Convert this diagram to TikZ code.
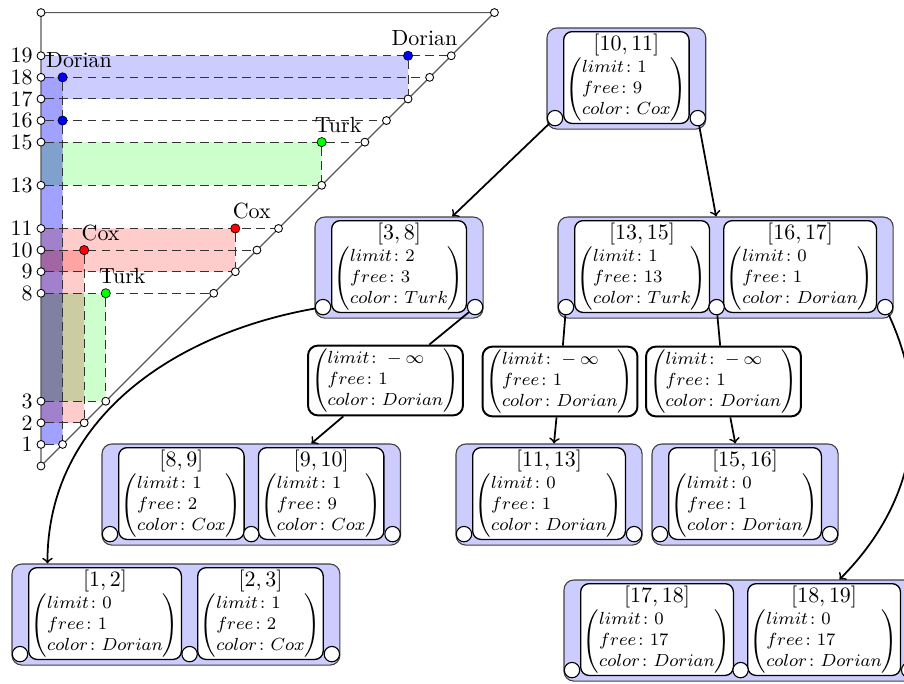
\documentclass[tikz,border=0pt]{standalone}
\usepackage{amsmath}
\usetikzlibrary{calc,fit}
\pgfdeclarelayer{background}
\pgfsetlayers{background,main}

% record contents: limit, free, color
\newcommand{\attrs}[3]{{\footnotesize$\left(\begin{array}{@{}l@{}}limit\colon #1\\ free\colon #2\\ color\colon #3\end{array}\right)$}}

\tikzset{
  axisline/.style={draw=black!65, line width=0.5pt},
  guide/.style={draw=black!80, line width=0.45pt, dash pattern=on 4pt off 2.4pt},
  tick/.style={circle, draw=black, fill=white, inner sep=0pt, minimum size=3.6pt, line width=0.4pt},
  hit/.style={circle, draw=black, fill=#1, inner sep=0pt, minimum size=4.2pt, line width=0.3pt},
  plabel/.style={anchor=base, xshift=7.5pt, yshift=4.5pt, inner sep=0pt},
  grp/.style={draw=black!75, fill=blue!20, rounded corners=4.5pt, inner sep=0pt, line width=0.5pt},
  cell/.style={draw=black, fill=white, rounded corners=3.8pt, inner sep=1pt, align=center, line width=0.6pt, anchor=north west},
  ptrbox/.style={draw=black, fill=white, rounded corners=4.5pt, inner sep=1.5pt, line width=0.9pt},
  slot/.style={circle, draw=black, fill=white, inner sep=0pt, minimum size=7pt, line width=0.5pt},
  link/.style={->, line width=0.8pt},
}

\begin{document}
\begin{tikzpicture}[x=0.016cm, y=0.016cm]
\useasboundingbox (0,0) rectangle (904,-684);

% ---------------- interval plot ----------------
\begin{scope}[shift={(41,-466)}, x=0.3456cm, y=0.3456cm]
  \begin{scope}[blend group=multiply]
    \fill[blue!20] (0,17) rectangle (17,19);
    \fill[blue!37] (0,1) rectangle (1,17);
    \fill[blue!20] (0,17) rectangle (1,18);
    \fill[green!20] (0,13) rectangle (13,15);
    \fill[red!20] (0,9) rectangle (9,11);
    \fill[red!20] (0,2) rectangle (2,10);
    \fill[green!20] (0,3) rectangle (3,8);
  \end{scope}

  \coordinate (o) at (0,0);
  \coordinate (tl) at (0,21);
  \coordinate (tr) at (21,21);
  \draw[axisline] (o) -- (tl) -- (tr) -- cycle;

  \node[tick] (ax0) at (o) {};
  \node[tick] (ax21) at (tl) {};
  \node[tick] (dg21) at (tr) {};
  \foreach \v in {1,2,3,8,9,10,11,13,15,16,17,18,19} {
    \node[tick] (ax\v) at (0,\v) {};
    \node[tick] (dg\v) at (\v,\v) {};
    \node[anchor=east, inner sep=1.6pt] (lb\v) at (ax\v.west) {\v};
    \draw[guide] (ax\v) -- (dg\v);
  }

  \node[hit=blue]  (pD19) at (17,19) {};
  \node[hit=blue]  (pD18) at (1,18) {};
  \node[hit=blue]  (pD16) at (1,16) {};
  \node[hit=green] (pT15) at (13,15) {};
  \node[hit=red]   (pC11) at (9,11) {};
  \node[hit=red]   (pC10) at (2,10) {};
  \node[hit=green] (pT8)  at (3,8) {};

  \draw[guide] (pD19) -- (dg17);
  \draw[guide] (pD18) -- (pD16) -- (dg1);
  \draw[guide] (pT15) -- (dg13);
  \draw[guide] (pC11) -- (dg9);
  \draw[guide] (pC10) -- (dg2);
  \draw[guide] (pT8) -- (dg3);

  \node[plabel] (tD19) at (pD19) {Dorian};
  \node[plabel] (tD18) at (pD18) {Dorian};
  \node[plabel] (tT15) at (pT15) {Turk};
  \node[plabel] (tC11) at (pC11) {Cox};
  \node[plabel] (tC10) at (pC10) {Cox};
  \node[plabel] (tT8)  at (pT8)  {Turk};
\end{scope}

% ---------------- tree ----------------
% root
\node[cell] (c1011) at (563,-31) {$[10,11]$\\\attrs{1}{9}{Cox}};
\begin{pgfonlayer}{background}
  \node[grp, fit={($(c1011.north west)+(-16,3)$) ($(c1011.south east)+(16,-5)$)}] (g1) {};
\end{pgfonlayer}
\node[slot] (s1a) at ($(c1011.south west)+(-8,6)$) {};
\node[slot] (s1b) at ($(c1011.south east)+(8,6)$) {};

% [3,8]
\node[cell] (c0308) at (331,-220) {$[3,8]$\\\attrs{2}{3}{Turk}};
\begin{pgfonlayer}{background}
  \node[grp, fit={($(c0308.north west)+(-16,3)$) ($(c0308.south east)+(16,-5)$)}] (g2) {};
\end{pgfonlayer}
\node[slot] (s2a) at ($(c0308.south west)+(-8,6)$) {};
\node[slot] (s2b) at ($(c0308.south east)+(8,6)$) {};

% [13,15] [16,17]
\node[cell] (c1315) at (574,-220) {$[13,15]$\\\attrs{1}{13}{Turk}};
\node[cell] (c1617) at ($(c1315.north east)+(13,0)$) {$[16,17]$\\\attrs{0}{1}{Dorian}};
\begin{pgfonlayer}{background}
  \node[grp, fit={($(c1315.north west)+(-16,3)$) ($(c1617.south east)+(16,-5)$)}] (g3) {};
\end{pgfonlayer}
\node[slot] (s3a) at ($(c1315.south west)+(-8,6)$) {};
\node[slot] (s3b) at ($(c1315.south east)!0.5!(c1617.south west)+(0,6)$) {};
\node[slot] (s3c) at ($(c1617.south east)+(8,6)$) {};

% separate records
\node[ptrbox] (m1) at (385.5,-380.5) {\attrs{-\infty}{1}{Dorian}};
\node[ptrbox] (m2) at (560,-381.5) {\attrs{-\infty}{1}{Dorian}};
\node[ptrbox] (m3) at (723.5,-381.5) {\attrs{-\infty}{1}{Dorian}};

% [8,9] [9,10]
\node[cell] (c0809) at (118,-447) {$[8,9]$\\\attrs{1}{2}{Cox}};
\node[cell] (c0910) at ($(c0809.north east)+(13,0)$) {$[9,10]$\\\attrs{1}{9}{Cox}};
\begin{pgfonlayer}{background}
  \node[grp, fit={($(c0809.north west)+(-16,3)$) ($(c0910.south east)+(16,-5)$)}] (g4) {};
\end{pgfonlayer}
\node[slot] (s4a) at ($(c0809.south west)+(-8,6)$) {};
\node[slot] (s4b) at ($(c0809.south east)!0.5!(c0910.south west)+(0,6)$) {};
\node[slot] (s4c) at ($(c0910.south east)+(8,6)$) {};

% [11,13]
\node[cell] (c1113) at (472,-447) {$[11,13]$\\\attrs{0}{1}{Dorian}};
\begin{pgfonlayer}{background}
  \node[grp, fit={($(c1113.north west)+(-16,3)$) ($(c1113.south east)+(16,-5)$)}] (g5) {};
\end{pgfonlayer}
\node[slot] (s5a) at ($(c1113.south west)+(-8,6)$) {};
\node[slot] (s5b) at ($(c1113.south east)+(8,6)$) {};

% [15,16]
\node[cell] (c1516) at (668,-447) {$[15,16]$\\\attrs{0}{1}{Dorian}};
\begin{pgfonlayer}{background}
  \node[grp, fit={($(c1516.north west)+(-16,3)$) ($(c1516.south east)+(16,-5)$)}] (g6) {};
\end{pgfonlayer}
\node[slot] (s6a) at ($(c1516.south west)+(-8,6)$) {};
\node[slot] (s6b) at ($(c1516.south east)+(8,6)$) {};

% [1,2] [2,3]
\node[cell] (c0102) at (28,-567) {$[1,2]$\\\attrs{0}{1}{Dorian}};
\node[cell] (c0203) at ($(c0102.north east)+(15,0)$) {$[2,3]$\\\attrs{1}{2}{Cox}};
\begin{pgfonlayer}{background}
  \node[grp, fit={($(c0102.north west)+(-16,3)$) ($(c0203.south east)+(16,-5)$)}] (g7) {};
\end{pgfonlayer}
\node[slot] (s7a) at ($(c0102.south west)+(-8,6)$) {};
\node[slot] (s7b) at ($(c0102.south east)!0.5!(c0203.south west)+(0,6)$) {};
\node[slot] (s7c) at ($(c0203.south east)+(8,6)$) {};

% [17,18] [18,19]
\node[cell] (c1718) at (580,-583) {$[17,18]$\\\attrs{0}{17}{Dorian}};
\node[cell] (c1819) at ($(c1718.north east)+(13,0)$) {$[18,19]$\\\attrs{0}{17}{Dorian}};
\begin{pgfonlayer}{background}
  \node[grp, fit={($(c1718.north west)+(-16,3)$) ($(c1819.south east)+(16,-5)$)}] (g8) {};
\end{pgfonlayer}
\node[slot] (s8a) at ($(c1718.south west)+(-8,6)$) {};
\node[slot] (s8b) at ($(c1718.south east)!0.5!(c1819.south west)+(0,6)$) {};
\node[slot] (s8c) at ($(c1819.south east)+(8,6)$) {};

% child pointers
\draw[link] (s1a) -- (g2);
\draw[link] (s1b) -- (g3);
\draw[link] (s2b) -- (m1) -- (g4);
\draw[link] (s3a) -- (m2) -- (g5);
\draw[link] (s3b) -- (m3) -- (g6);
\draw[link] (s2a) to[out=190, in=90] ($(g7.north west)+(36,0)$);
\draw[link] (s3c) to[out=-65, in=45] ($(g8.north west)+(276,0)$);
\end{tikzpicture}
\end{document}
